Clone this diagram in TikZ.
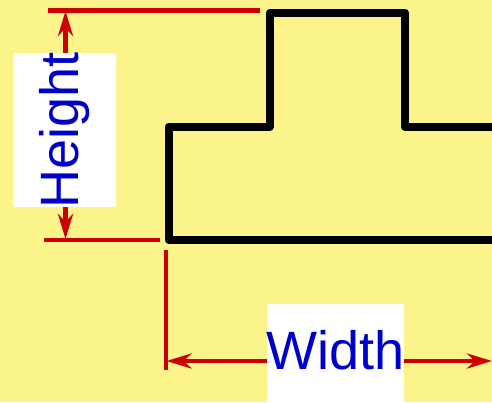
\documentclass[tikz,border=0pt]{standalone}
\usepackage{fontspec}
\setmainfont{Liberation Sans}
\usetikzlibrary{arrows.meta}
\definecolor{bgyellow}{RGB}{251,244,138}
\definecolor{dimred}{RGB}{204,0,0}
\definecolor{labelblue}{RGB}{0,0,204}
\tikzset{
	dimline/.style={draw=dimred, line width=4.3pt},
	dimarrow/.style={dimline, {Stealth[length=25pt,width=15pt,inset=8pt]}-{Stealth[length=25pt,width=15pt,inset=8pt]}},
	outline/.style={draw=black, line width=8pt, line join=round},
	labelbox/.style={fill=white, inner sep=0pt},
	labeltext/.style={text=labelblue, inner sep=0pt, font=\fontsize{54}{60}\selectfont}
}

\begin{document}
\begin{tikzpicture}[x=1pt,y=-1pt]
		\fill[bgyellow] (0,0) rectangle (492,402);
		\useasboundingbox (0,0) rectangle (492,402);
		% part outline
		\draw [outline] (492,240) -- (168.5,240) -- (168.5,126.5) -- (270,126.5) -- (270,12.5) -- (405,12.5) -- (405,127) -- (492,127);
		% extension lines
		\coordinate (topL) at (48,10.5);
		\coordinate (topR) at (260,10.5);
		\coordinate (botL) at (44,240);
		\coordinate (botR) at (160,240);
		\coordinate (extT) at (165.7,250);
		\coordinate (extB) at (165.7,370);
		\draw [dimline] (topL) -- (topR);
		\draw [dimline] (botL) -- (botR);
		\draw [dimline] (extT) -- (extB);
		% dimension arrows
		\coordinate (hTop) at (65.5,11);
		\coordinate (hBot) at (65.5,239);
		\coordinate (wLeft) at (166.5,361);
		\coordinate (wRight) at (492,361);
		\draw [dimarrow] (hTop) -- (hBot);
		\draw [dimarrow] (wLeft) -- (wRight);
		% labels
		\node [labelbox, minimum width=103pt, minimum height=154pt] (heightbox) at (64.5,130) {};
		\node [labeltext, rotate=90, anchor=base] (heightlabel) at (78,130.5) {Height};
		\node [labelbox, minimum width=137pt, minimum height=98pt] (widthbox) at (335.5,353) {};
		\node [labeltext, anchor=base] (widthlabel) at (335.5,369) {Width};
	\end{tikzpicture}
\end{document}
